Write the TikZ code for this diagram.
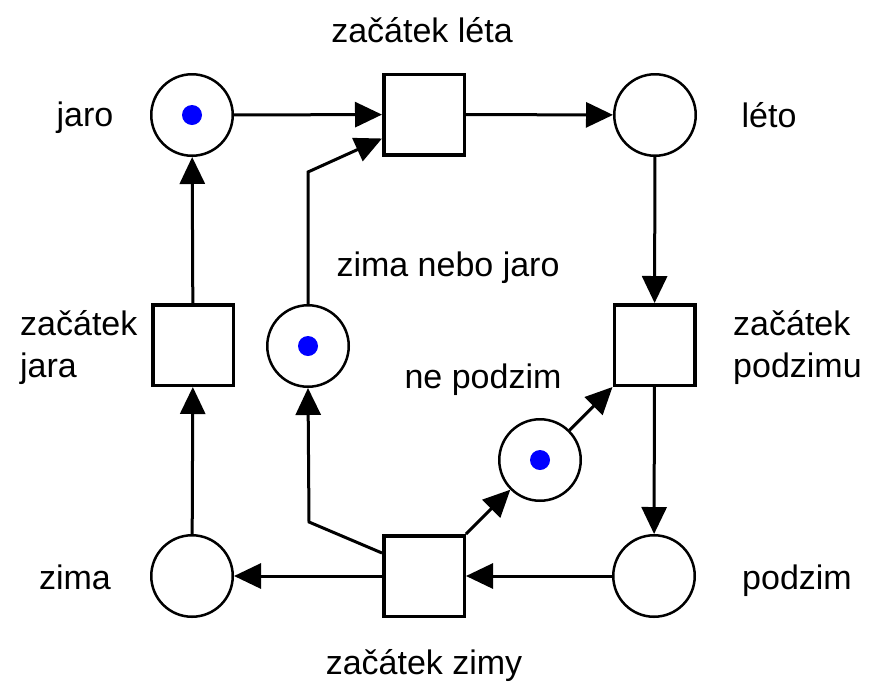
\documentclass[tikz,border=0pt]{standalone}
\usepackage{fontspec}
\setmainfont{Liberation Sans}
\usetikzlibrary{arrows.meta}
\definecolor{tokenblue}{RGB}{0,0,255}
\tikzset{
  place/.style={circle,draw=black,line width=2.5pt,minimum size=81.5pt,inner sep=0pt},
  trans/.style={rectangle,draw=black,line width=3.5pt,minimum size=80.5pt,inner sep=0pt},
  tok/.style={circle,fill=tokenblue,minimum size=20pt,inner sep=0pt},
  arc/.style={line width=3pt,-{Triangle[length=27pt,width=25pt]}},
  lbl/.style={font=\fontsize{34}{40}\selectfont,inner sep=0pt,anchor=base},
  lblw/.style={font=\fontsize{34}{40}\selectfont,inner sep=0pt,anchor=base west}
}
\begin{document}
\begin{tikzpicture}[x=1pt,y=-1pt]
\useasboundingbox[fill=white] (0,0) rectangle (870,681);
% places
\node[place] (jaro) at (192,115) {};
\node[place] (leto) at (655,115) {};
\node[place] (zima) at (192,576) {};
\node[place] (podzim) at (654,576) {};
\node[place] (znj) at (308,346) {};
\node[place] (np) at (540,460) {};
% tokens
\node[tok] (t1) at (jaro) {};
\node[tok] (t2) at (znj) {};
\node[tok] (t3) at (np) {};
% transitions
\node[trans] (zl) at (424,114.5) {};
\node[trans] (zj) at (193,345) {};
\node[trans] (zp) at (654.5,345) {};
\node[trans] (zz) at (424,576) {};
% bend points
\coordinate (b1) at (308,172);
\coordinate (b2) at (309,522);
% arcs
\draw[arc] (jaro) -- (zl);
\draw[arc] (znj.north) -- (b1) -- ([yshift=-24pt]zl.west);
\draw[arc] (zl) -- (leto);
\draw[arc] (leto) -- (zp);
\draw[arc] (zp) -- (podzim);
\draw[arc] (podzim) -- (zz);
\draw[arc] (zz) -- (zima);
\draw[arc] (zima) -- (zj);
\draw[arc] (zj) -- (jaro);
\draw[arc] ([yshift=23pt]zz.west) -- (b2) -- (znj.south);
\draw[arc] (zz.north east) -- (np);
\draw[arc] (np) -- (zp.south west);
% labels
\node[lbl] (l1) at (422,42) {začátek léta};
\node[lbl] (l2) at (85,126) {jaro};
\node[lbl] (l3) at (769,127) {léto};
\node[lbl] (l4) at (448,276) {zima nebo jaro};
\node[lbl] (l5) at (483,388) {ne podzim};
\node[lblw] (l6) at (20,335) {začátek};
\node[lblw] (l7) at (20,377) {jara};
\node[lblw] (l8) at (733,335) {začátek};
\node[lblw] (l9) at (733,377) {podzimu};
\node[lbl] (l10) at (75,589) {zima};
\node[lbl] (l11) at (797,589) {podzim};
\node[lbl] (l12) at (424,674) {začátek zimy};
\end{tikzpicture}
\end{document}
